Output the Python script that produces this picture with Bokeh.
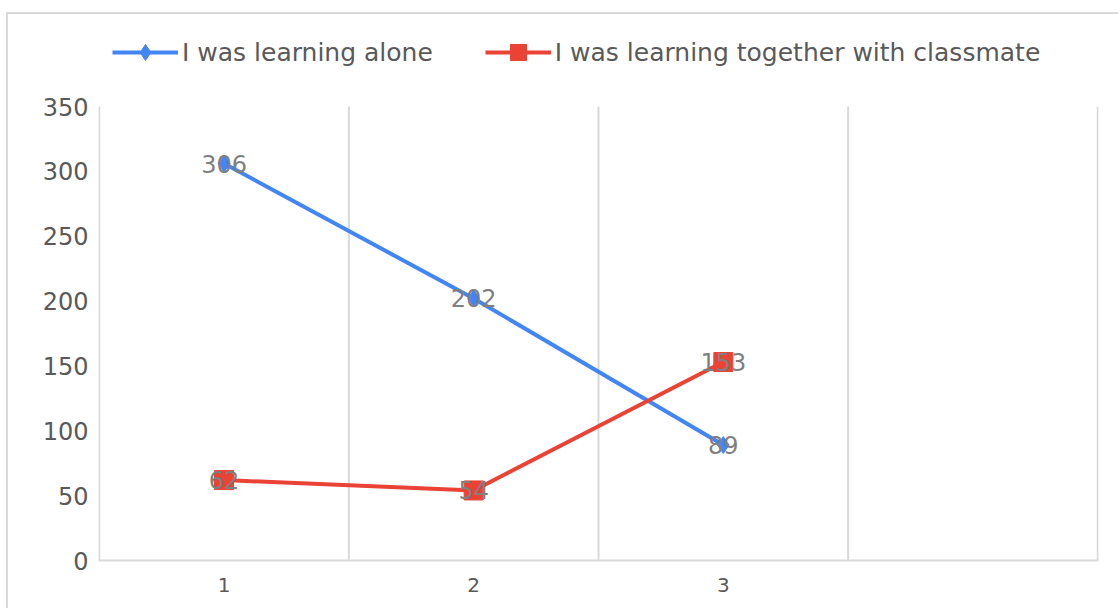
from bokeh.plotting import figure
from bokeh.models import ColumnDataSource, FixedTicker, Legend, LegendItem
from bokeh.core.properties import value
from bokeh.embed import file_html
from bokeh.resources import INLINE

# ---- data ----
categories = [1, 2, 3]
tick_labels = ["1", "2", "3"]
alone = [306, 202, 89]
together = [62, 54, 153]
series_names = ["I was learning alone", "I was learning together with classmate"]
y_ticks = [0, 50, 100, 150, 200, 250, 300, 350]
cat_bounds = [0.5, 1.5, 2.5, 3.5, 4.5]

BLUE = "#4285F4"
RED = "#EA4335"
GRID = "#d9d9d9"
FONT = "DejaVu Sans"

# geometry: plot area 454 px tall for the 0..350 axis, legend strip above it
FRAME_H = 546
AXIS_H = 454
y_top = y_ticks[-1] * FRAME_H / AXIS_H

src_a = ColumnDataSource(dict(x=categories, y=alone, t=[str(v) for v in alone]))
src_t = ColumnDataSource(dict(x=categories, y=together, t=[str(v) for v in together]))
src_g = ColumnDataSource(dict(x=cat_bounds, y0=[y_ticks[0]] * len(cat_bounds),
                              y1=[y_ticks[-1]] * len(cat_bounds)))

p = figure(width=1112, height=596, x_range=(0.497, 4.503), y_range=(0, y_top),
           output_backend="svg", toolbar_location=None,
           min_border_left=90, min_border_right=22, min_border_top=0, min_border_bottom=50)
p.outline_line_color = None
p.background_fill_color = "white"
p.border_fill_color = "white"
p.styles = {"border-left": "2px solid #d9d9d9", "border-top": "2px solid #d9d9d9",
            "margin-left": "6px", "margin-top": "12px"}

# axes
p.xaxis.ticker = FixedTicker(ticks=categories)
p.xaxis.major_label_overrides = {c: l for c, l in zip(categories, tick_labels)}
p.xaxis.axis_line_color = GRID
p.xaxis.axis_line_width = 2
p.xaxis.major_tick_line_color = None
p.xaxis.minor_tick_line_color = None
p.xaxis.major_tick_out = 0
p.xaxis.major_label_standoff = 17
p.xaxis.major_label_text_font = FONT
p.xaxis.major_label_text_font_size = "20px"
p.xaxis.major_label_text_color = "#595959"

p.yaxis.ticker = FixedTicker(ticks=y_ticks)
p.yaxis.axis_line_color = None
p.yaxis.major_tick_line_color = None
p.yaxis.minor_tick_line_color = None
p.yaxis.major_tick_out = 0
p.yaxis.major_label_standoff = 10
p.yaxis.major_label_text_font = FONT
p.yaxis.major_label_text_font_size = "24px"
p.yaxis.major_label_text_color = "#595959"

p.xgrid.grid_line_color = None
p.ygrid.grid_line_color = None

# vertical grid lines at category boundaries, spanning the value axis
p.segment(x0="x", y0="y0", x1="x", y1="y1", source=src_g, line_color=GRID, line_width=2)

# series
bl = p.line("x", "y", source=src_a, line_color=BLUE, line_width=4)
rl = p.line("x", "y", source=src_t, line_color=RED, line_width=4)
bm = p.scatter("x", "y", source=src_a, marker="diamond", size=17,
               fill_color=BLUE, line_color=BLUE)
rm = p.scatter("x", "y", source=src_t, marker="square", size=19,
               fill_color=RED, line_color=RED)

# data labels
for src in (src_a, src_t):
    p.text("x", "y", text="t", source=src, text_align="center", text_baseline="middle",
           text_font=value(FONT), text_font_size=value("24px"), text_color="#7f7f7f")

legend = Legend(items=[LegendItem(label=series_names[0], renderers=[bl, bm]),
                       LegendItem(label=series_names[1], renderers=[rl, rm])],
                orientation="horizontal", location=(14, 488),
                padding=0, margin=0, spacing=52, glyph_width=66, glyph_height=40,
                label_standoff=4, label_text_font=FONT, label_text_font_size="25px",
                label_text_color="#595959", border_line_color=None,
                background_fill_alpha=0)
p.add_layout(legend)

open("out.html", "w").write(file_html(p, INLINE))
